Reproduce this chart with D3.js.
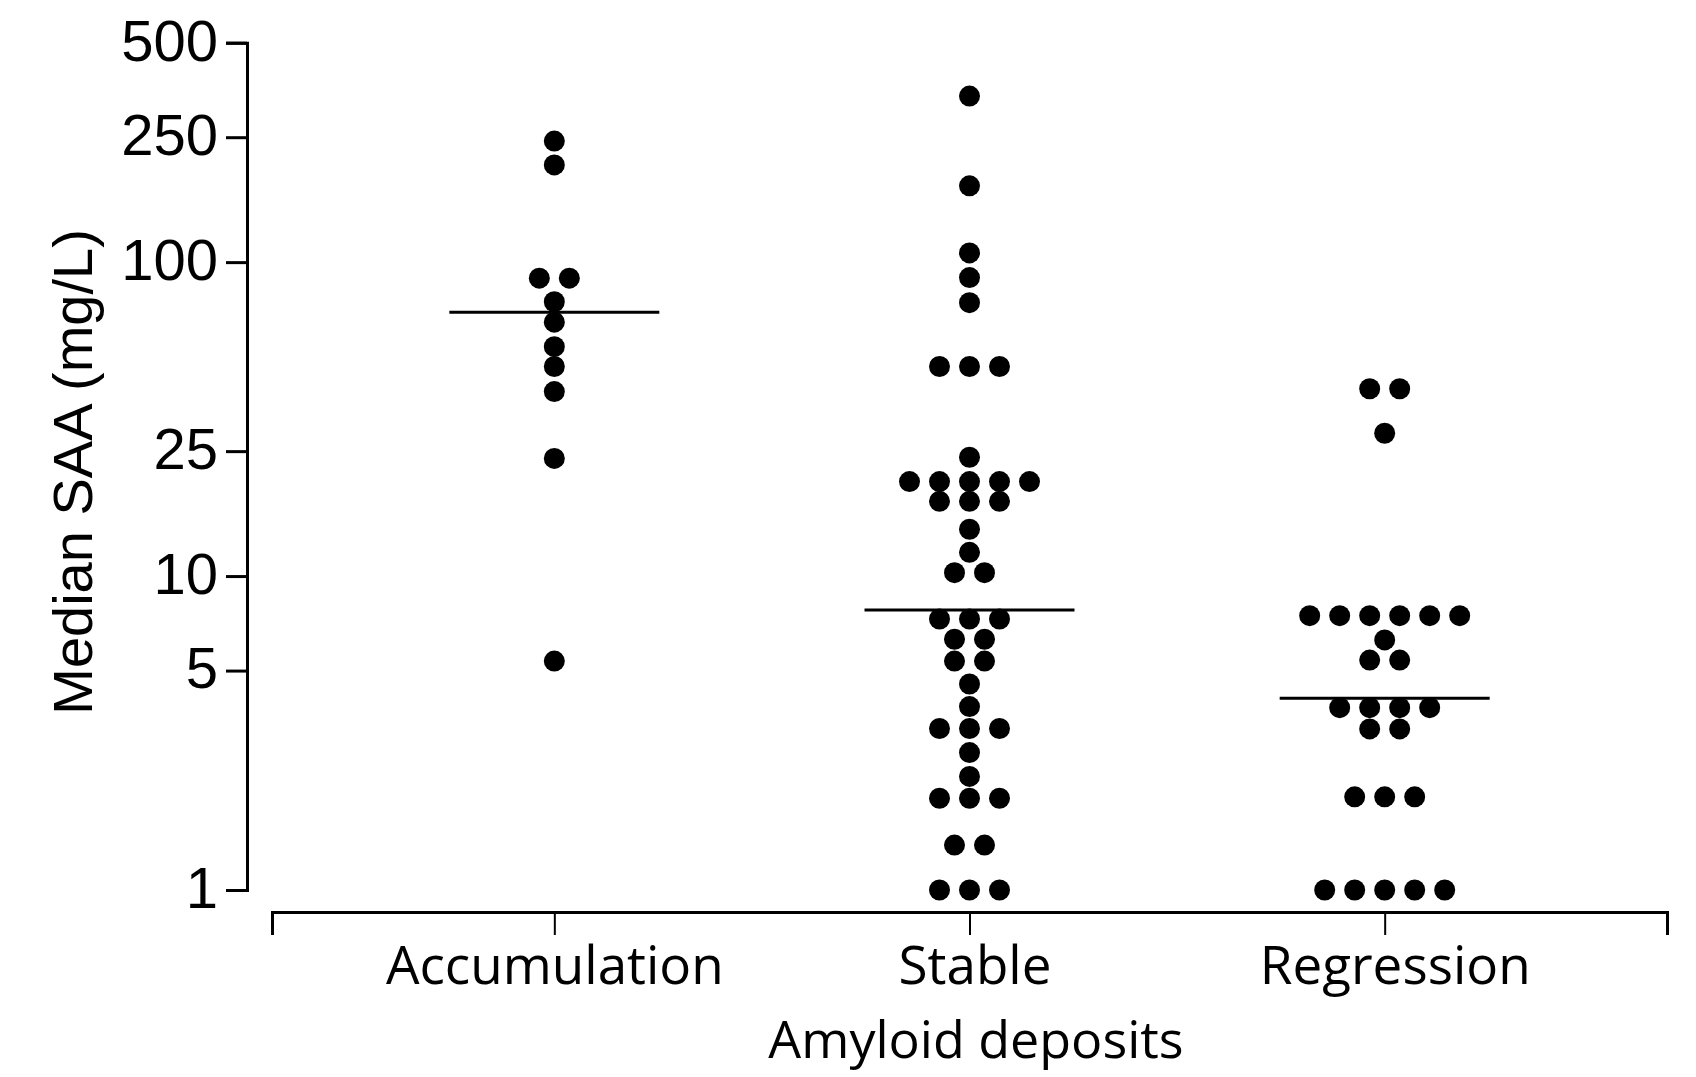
<!DOCTYPE html>
<html>
<head>
<meta charset="utf-8">
<script src="https://cdn.jsdelivr.net/npm/d3@7"></script>
<style>
  html, body { margin: 0; padding: 0; background: #fff; }
  #saaChart { width: 1696px; height: 1077px; }
</style>
</head>
<body>
<div id="saaChart"></div>
<script>
// Groups on the x axis
const categories = ['Accumulation', 'Stable', 'Regression'];

// Median SAA (mg/L) per patient
const accumulationValues = [243, 204, 88.9, 88.9, 74.8, 64.4, 53.8, 46.5, 38.7, 23.7, 5.36];
const stableValues = [
  338, 175, 107, 89.3, 74.3,
  46.5, 46.5, 46.5,
  23.9,
  20, 20, 20, 20, 20,
  17.3, 17.3, 17.3,
  14.1, 11.9,
  10.25, 10.25,
  7.3, 7.3, 7.3,
  6.29, 6.29,
  5.36, 5.36,
  4.53, 3.84,
  3.27, 3.27, 3.27,
  2.74, 2.3,
  1.96, 1.96, 1.96,
  1.39, 1.39,
  1, 1, 1
];
const regressionValues = [
  39.5, 39.5, 28.5,
  7.48, 7.48, 7.48, 7.48, 7.48, 7.48,
  6.26,
  5.4, 5.4,
  3.81, 3.81, 3.81, 3.81,
  3.26, 3.26,
  1.98, 1.98, 1.98,
  1, 1, 1, 1, 1
];

// Median bar of each group as drawn in the figure
const medians = [69.2, 7.8, 4.08];

// Tick labels of the log axis
const yTicks = [1, 5, 10, 25, 100, 250, 500];

const xTitle = 'Amyloid deposits';
const yTitle = 'Median SAA (mg/L)';

class ColumnScatterChart {
  constructor (groups) {
    this.groups = groups;
    this.chartContainer = d3.select('#saaChart');
    this.chart = null;
    this.chartWidth = 1696;
    this.chartHeight = 1077;
    this.yAxisX = 247; // y axis sits apart from the x axis
    this.xAxisY = 912;
    this.plotTop = 42.7;
    this.plotBottom = 890;
    this.dotRadius = 10.5;
    this.dotStep = 30; // horizontal distance between dots of equal value
    this.medianHalfWidth = 105;
    this.xScale = null;
    this.yScale = null;
  }

  render () {
    this.createSvg();
    this.initScales();
    this.drawAxes();
    this.drawMedians();
    this.drawPoints();
    this.drawTitles();
  }

  createSvg () {
    this.chart = this.chartContainer
      .append('svg')
      .attr('width', this.chartWidth)
      .attr('height', this.chartHeight)
      .style('background', '#fff');
  }

  initScales () {
    this.xScale = d3.scalePoint()
      .domain(categories)
      .range([272, 1667])
      .padding(0.68);

    this.yScale = d3.scaleLog()
      .domain([1, 500])
      .range([this.plotBottom, this.plotTop]);
  }

  drawAxes () {
    let yAxis = d3.axisLeft(this.yScale)
      .tickValues(yTicks)
      .tickFormat((d) => d)
      .tickSize(21)
      .tickSizeOuter(21)
      .tickPadding(8);

    let yG = this.chart
      .append('g')
      .attr('class', 'c-axis')
      .attr('transform', 'translate(' + this.yAxisX + ', 0)')
      .call(yAxis);

    yG.selectAll('path, line').attr('stroke', '#000').attr('stroke-width', 3);
    yG.selectAll('text')
      .attr('fill', '#000')
      .attr('font-family', '"Liberation Sans", Arial, sans-serif')
      .attr('font-size', 58)
      .attr('dy', '0.3em');

    let xAxis = d3.axisBottom(this.xScale)
      .tickSize(23)
      .tickSizeOuter(23);

    let xG = this.chart
      .append('g')
      .attr('class', 'c-axis')
      .attr('transform', 'translate(0, ' + this.xAxisY + ')')
      .call(xAxis);

    xG.select('.domain').attr('stroke', '#000').attr('stroke-width', 3);
    xG.selectAll('.tick line').attr('stroke', '#000').attr('stroke-width', 2);
    xG.selectAll('text')
      .attr('fill', '#000')
      .attr('font-family', '"Open Sans", sans-serif')
      .attr('font-size', 53)
      .attr('x', (d, i) => i * 5) // labels sit a touch right of their ticks
      .attr('y', 72)
      .attr('dy', 0);
  }

  // spread dots that share a value sideways, centred on the column
  layoutGroup (category, values) {
    let byValue = d3.group(values, (v) => v);
    let points = [];
    byValue.forEach((list, value) => {
      list.forEach((v, i) => {
        points.push({
          category: category,
          value: value,
          offset: (i - (list.length - 1) / 2) * this.dotStep
        });
      });
    });
    return points;
  }

  drawPoints () {
    let points = [];
    categories.forEach((c, i) => {
      points = points.concat(this.layoutGroup(c, this.groups[i]));
    });

    this.chart
      .append('g')
      .attr('class', 'c-points')
      .selectAll('circle')
      .data(points)
      .enter()
      .append('circle')
      .attr('cx', (d) => this.xScale(d.category) + d.offset)
      .attr('cy', (d) => this.yScale(d.value))
      .attr('r', this.dotRadius)
      .attr('fill', '#000');
  }

  drawMedians () {
    this.chart
      .append('g')
      .attr('class', 'c-medians')
      .selectAll('line')
      .data(medians)
      .enter()
      .append('line')
      .attr('x1', (d, i) => this.xScale(categories[i]) - this.medianHalfWidth)
      .attr('x2', (d, i) => this.xScale(categories[i]) + this.medianHalfWidth)
      .attr('y1', (d) => this.yScale(d))
      .attr('y2', (d) => this.yScale(d))
      .attr('stroke', '#000')
      .attr('stroke-width', 3);
  }

  drawTitles () {
    this.chart
      .append('text')
      .attr('x', 976)
      .attr('y', 1058)
      .attr('text-anchor', 'middle')
      .attr('font-family', '"Open Sans", sans-serif')
      .attr('font-size', 52)
      .attr('fill', '#000')
      .text(xTitle);

    this.chart
      .append('text')
      .attr('transform', 'translate(92, 472) rotate(-90)')
      .attr('text-anchor', 'middle')
      .attr('font-family', '"Liberation Sans", Arial, sans-serif')
      .attr('font-size', 56)
      .attr('fill', '#000')
      .text(yTitle);
  }
}

new ColumnScatterChart([accumulationValues, stableValues, regressionValues]).render();
</script>
</body>
</html>
